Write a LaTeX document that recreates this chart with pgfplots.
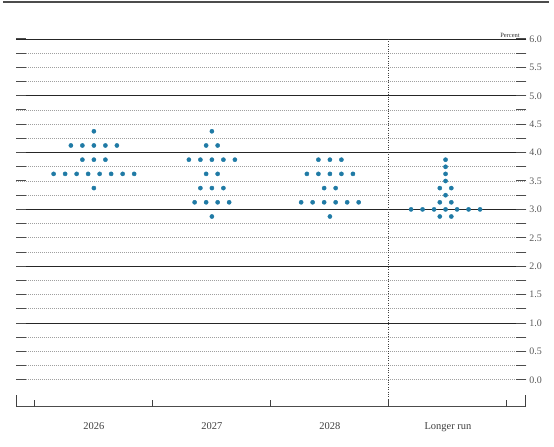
\documentclass[border=0pt]{standalone}
\usepackage{pgfplots}
\pgfplotsset{compat=1.18}
\usepackage{fontspec}
\setmainfont{Liberation Serif}
\definecolor{dotblue}{HTML}{1F7AA5}
\definecolor{gridgray}{HTML}{A0A0A0}
\begin{document}
\begin{tikzpicture}
\begin{axis}[
  width=510bp, height=368bp, scale only axis,
  xmin=-0.66, xmax=3.66, ymin=-0.475, ymax=6,
  axis line style={draw=none},
  clip=false,
  xtick={0,1,2,3},
  xticklabels={2026,2027,2028,Longer run},
  xtick pos=left,
  x tick style={draw=none},
  major tick length=10bp,
  tick align=inside,
  xticklabel style={font=\fontsize{10.5}{12}\selectfont, text=black!75, yshift=-12bp},
  ytick={0,0.5,...,6},
  minor ytick={0.25,0.75,...,5.75},
  minor tick length=10bp,
  ytick pos=both,
  yticklabel pos=right,
  y tick style={draw=black!70, line width=1bp},
  ymajorgrids, yminorgrids,
  major grid style={draw=gridgray, line width=0.7bp, dash pattern=on 0.8bp off 1.2bp},
  minor grid style={draw=gridgray, line width=0.7bp, dash pattern=on 0.8bp off 1.2bp},
  extra y ticks={1,2,3,4,5,6},
  extra y tick labels={},
  extra y tick style={grid=major, major grid style={solid, draw=black!85, line width=0.9bp}},
  /pgf/number format/assume math mode=true,
  /pgf/number format/.cd, fixed, fixed zerofill, precision=1, /pgfplots/.cd,
  yticklabel style={font=\fontsize{10}{12}\selectfont, text=black!65},
]
% bounding area
\path (axis cs:-0.7956,6.686) rectangle (axis cs:3.899,-1.179);
% top border line
\draw[line width=1.4bp, black!70] (axis cs:-0.77,6.651) -- (axis cs:3.86,6.651);
% bottom axis line, boundary ticks and end ticks
\draw[line width=1.3bp, black!70] (axis cs:-0.66,-0.475) -- (axis cs:3.66,-0.475);
\draw[line width=1bp, black!75] (axis cs:-0.66,-0.475) -- (axis cs:-0.66,-0.26);
\draw[line width=1bp, black!75] (axis cs:3.66,-0.475) -- (axis cs:3.66,-0.26);
\draw[line width=0.9bp, black!75] (axis cs:-0.5,-0.475) -- (axis cs:-0.5,-0.35);
\draw[line width=0.9bp, black!75] (axis cs:0.5,-0.475) -- (axis cs:0.5,-0.35);
\draw[line width=0.9bp, black!75] (axis cs:1.5,-0.475) -- (axis cs:1.5,-0.35);
\draw[line width=0.9bp, black!75] (axis cs:2.5,-0.475) -- (axis cs:2.5,-0.35);
\draw[line width=0.9bp, black!75] (axis cs:3.5,-0.475) -- (axis cs:3.5,-0.35);
% vertical separator
\draw[line width=0.9bp, black!75, dash pattern=on 1bp off 1.4bp] (axis cs:2.5,6) -- (axis cs:2.5,-0.475);
\node[anchor=south east, inner sep=1.2bp, font=\fontsize{6.5}{7}\selectfont, text=black!80] at (axis cs:3.62,6) {Percent};

\addplot[only marks, mark=*, mark size=2.1bp, color=dotblue] coordinates {
(0,4.375)
(-0.195,4.125) (-0.0975,4.125) (0,4.125) (0.0975,4.125) (0.195,4.125)
(-0.0975,3.875) (0,3.875) (0.0975,3.875)
(-0.34125,3.625) (-0.24375,3.625) (-0.14625,3.625) (-0.04875,3.625) (0.04875,3.625) (0.14625,3.625) (0.24375,3.625) (0.34125,3.625)
(0,3.375)
};
\addplot[only marks, mark=*, mark size=2.1bp, color=dotblue] coordinates {
(1,4.375)
(0.95125,4.125) (1.04875,4.125)
(0.805,3.875) (0.9025,3.875) (1,3.875) (1.0975,3.875) (1.195,3.875)
(0.95125,3.625) (1.04875,3.625)
(0.9025,3.375) (1,3.375) (1.0975,3.375)
(0.85375,3.125) (0.95125,3.125) (1.04875,3.125) (1.14625,3.125)
(1,2.875)
};
\addplot[only marks, mark=*, mark size=2.1bp, color=dotblue] coordinates {
(1.9025,3.875) (2,3.875) (2.0975,3.875)
(1.805,3.625) (1.9025,3.625) (2,3.625) (2.0975,3.625) (2.195,3.625)
(1.95125,3.375) (2.04875,3.375)
(1.75625,3.125) (1.85375,3.125) (1.95125,3.125) (2.04875,3.125) (2.14625,3.125) (2.24375,3.125)
(2,2.875)
};
\addplot[only marks, mark=*, mark size=2.1bp, color=dotblue] coordinates {
(2.98,3.875) (2.98,3.75) (2.98,3.625) (2.98,3.5)
(2.93125,3.375) (3.02875,3.375)
(2.98,3.25)
(2.93125,3.125) (3.02875,3.125)
(2.6875,3) (2.785,3) (2.8825,3) (2.98,3) (3.0775,3) (3.175,3) (3.2725,3)
(2.93125,2.875) (3.02875,2.875)
};
\end{axis}
\end{tikzpicture}
\end{document}
